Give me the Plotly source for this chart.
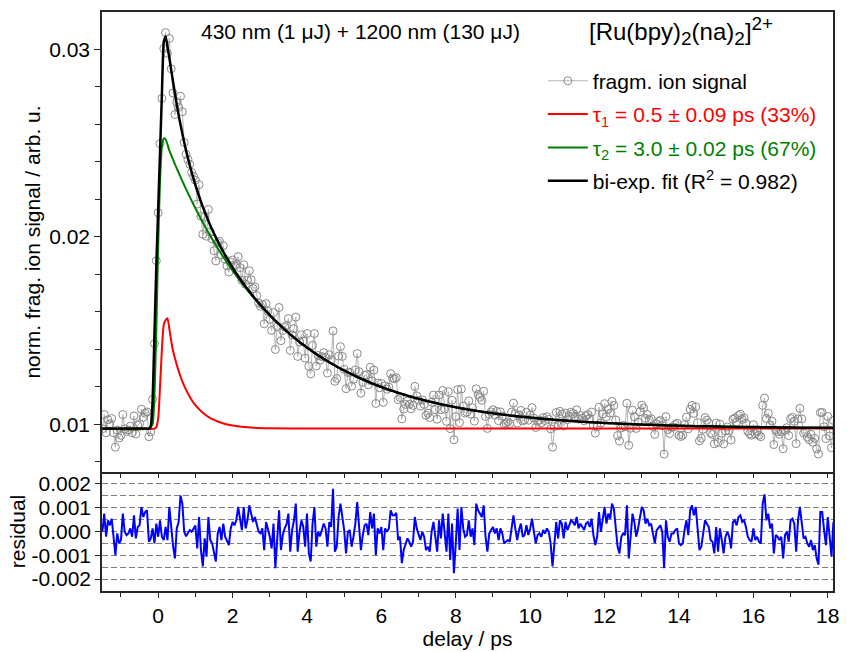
import numpy as np
import plotly.graph_objects as go

# ---------------- data ----------------
DELAY_START = -1.5   # ps, first delay point
DELAY_STEP = 0.05    # ps, delay-stage step
SCALE = 1e-5         # values below are in units of 1e-5

# bi-exponential fit (black), read at each delay point
fit_e5 = [
    977, 977, 977, 977, 977, 977, 977, 977, 977, 977,
    977, 977, 977, 977, 977, 977, 977, 977, 977, 977,
    977, 977, 977, 977, 977, 977,
    990, 1120, 1480, 1840, 2150, 2450, 2760, 3040, 3070, 3015, 2955, 2890, 2827, 2765,
    2705, 2650, 2599, 2550, 2504, 2460, 2420, 2381, 2345, 2310,
    2277, 2246, 2217, 2188, 2160, 2134, 2109, 2085, 2061, 2039,
    2018, 1997, 1977, 1957, 1939, 1920, 1902, 1885, 1869, 1852,
    1836, 1820, 1805, 1791, 1776, 1762, 1748, 1734, 1722, 1709,
    1696, 1684, 1671, 1660, 1648, 1637, 1625, 1614, 1604, 1594,
    1582, 1572, 1563, 1553, 1543, 1534, 1524, 1515, 1506, 1497,
    1489, 1479, 1471, 1463, 1455, 1447, 1439, 1431, 1424, 1417,
    1409, 1402, 1395, 1388, 1381, 1375, 1368, 1362, 1355, 1349,
    1343, 1337, 1331, 1325, 1319, 1314, 1308, 1303, 1297, 1292,
    1287, 1282, 1277, 1272, 1267, 1262, 1257, 1253, 1248, 1244,
    1239, 1235, 1231, 1226, 1222, 1218, 1214, 1210, 1207, 1203,
    1199, 1195, 1192, 1188, 1185, 1181, 1178, 1175, 1171, 1168,
    1165, 1162, 1159, 1156, 1153, 1150, 1147, 1144, 1141, 1139,
    1136, 1133, 1131, 1128, 1126, 1123, 1121, 1119, 1116, 1114,
    1112, 1109, 1107, 1105, 1103, 1101, 1099, 1097, 1095, 1093,
    1091, 1089, 1087, 1085, 1084, 1082, 1080, 1078, 1077, 1075,
    1074, 1072, 1070, 1069, 1067, 1066, 1064, 1063, 1061, 1060,
    1059, 1057, 1056, 1055, 1053, 1052, 1051, 1050, 1049, 1047,
    1046, 1045, 1044, 1043, 1042, 1041, 1040, 1039, 1038, 1037,
    1036, 1035, 1034, 1033, 1032, 1031, 1030, 1029, 1028, 1027,
    1027, 1026, 1025, 1024, 1023, 1023, 1022, 1021, 1020, 1020,
    1019, 1018, 1018, 1017, 1016, 1016, 1015, 1014, 1014, 1013,
    1012, 1012, 1011, 1011, 1010, 1010, 1009, 1009, 1008, 1008,
    1007, 1007, 1006,
    1006, 1005, 1005, 1004, 1004, 1003, 1003, 1002, 1002, 1002, 1001,
    1001, 1000, 1000, 1000, 999, 999, 999, 998, 998, 998,
    997, 997, 997, 996, 996, 996, 995, 995, 995, 994,
    994, 994, 993, 993, 993, 993, 992, 992, 992, 992,
    991, 991, 991, 991, 990, 990, 990, 990, 990, 989,
    989, 989, 989, 989, 989, 988, 988, 988, 988, 988,
    987, 987, 987, 987, 987, 987, 986, 986, 986, 986,
    986, 986, 986, 985, 985, 985, 985, 985, 985, 985,
    984, 984, 984, 984, 984, 984, 984, 984, 984, 983,
    983, 983, 983, 983, 983, 983, 983, 983, 983, 982,
    982, 982, 982, 982, 982, 982, 982, 982, 982, 982,
    982, 981, 981, 981, 981, 981, 981, 981, 981, 981,
]

# fit residual (blue), read at each delay point
residual_e5 = [
    -1, 75, -22, 47, 26, 54, -22, -99, -8, -50,
    -36, 75, -1, -15, -8, 13, -22, 68, -29, 19,
    26, 103, 61, 82, 89, -43, -30, 13, -50, 33,
    -22, 47, -22, -36, 19, -36, 103, 6, -60, -113,
    13, 40, 151, 117, -1, -20, -8, 6, -1, 13,
    25, -71, 61, -78, -147, -29, -106, 61, -36, -50,
    -92, -126, -8, 19, -36, 33, -22, -40, -57, 13,
    40, 26, 47, 103, 60, 6, 103, 13, 47, 110,
    75, 40, 61, 26, -1, -8, 13, -78, 40, 10,
    -22, -71, 33, -154, -22, 89, -78, -15, 13, 30,
    75, -85, 6, 47, 117, -85, -1, 47, 20, -64,
    75, -92, -126, 33, 103, -64, -1, -20, 6, 33,
    13, -64, 40, 19, 179, -85, -64, 61, 117, 70,
    6, -92, -1,
    6, -64, -22, 33, 124, 33, -78, -15, 26, 33,
    -15, 82, 13, 75, -99, 13, -8, 19, -78, 13,
    -1, 13, 89, 68, 68, 78, -36, -22, -133, -78,
    -50, -29, -43, -64, -43, 61, 13, -8, -36, -1,
    -22, -78, -64, -85, -1, 40, -36, -85, 47, -29,
    75, -22, -85, 75, -120, 33, -175, -50, 96, -78,
    103, 13, -22, -15, 47, -22, 13, -57, 117, 89,
    75, 61, 110, -22, -85, -8, 6, 19, -8, 13,
    -36, 13, -8, -50, -43, -36, -43, 19, 68, 13,
    -36, 6, 33, -22, -15, 26, -15, 13, 54, -1,
    -50, -15, -8, -22, 6, -8, 13, -1, -50, -147,
    -36, 40, -29, 47, 33, -29, 40, 6, 26, 47,
    40, 26, 61, 13, 33, 19, 6, 33, 40, 19,
    54, -15, -57, -22,
    82, -1, 47, 103, 33, 75, 54, 117, 96, 19,
    -64, -92, -22, -8, -15, 110, -113, -22, 75, 40,
    -22, 13, 68, 103, 89, 33, 54, 26, 33, -8,
    -50, 6, 19, 26, -1, -154, 47, -22, -43, -8,
    -8, 6, 13, -50, -57, -50, 6, 47, -15, 89,
    110, 68, 103, 19, -78, -64, -15, 47, 33, 19,
    -36, -43, -92, 19, -85, 13, -36, -92, -22, -1,
    -22, -71, 40, 47, 26, 61, 68, 40, 47, 19,
    -22, -36, -43, 13, -36, -22, -43, -50, 117, 156,
    47, 75, 13, 33, -92, -15, -22, -36, -22, -113,
    -15, -1, -43, 47, 54, 33, -85, 47, 103, 47,
    -29, -22, -50, -64, -36, -78, -57, -113, -140, 82,
    82, 6, -57, 61, -43, -106, 40,
]

# tau1 component (red) and tau2 component (green), read at knots
tau1_delay = [-1.55, -0.1, -0.05, 0.0, 0.05, 0.1, 0.15, 0.2, 0.25, 0.3, 0.35, 0.4,
              0.5, 0.6, 0.7, 0.8, 0.9, 1.0, 1.2, 1.4, 1.6, 1.8, 2.0, 2.5, 3.0, 4.0, 18.2]
tau1_e5 = [977, 977, 985, 1030, 1200, 1400, 1530, 1555, 1565, 1510, 1445, 1392,
           1317, 1255, 1205, 1164, 1130, 1102, 1061, 1033, 1015, 1002, 994, 983, 979, 977, 977]

tau2_delay = [-1.55, -0.25, -0.2, -0.15, -0.1, -0.05, 0.0, 0.05, 0.1, 0.15, 0.2, 0.3, 0.4,
              0.5, 0.75, 1.0, 1.25, 1.5, 1.75, 2.0, 2.5, 3.0, 3.5, 4.0, 4.5, 5.0, 6.0,
              7.0, 8.0, 9.0, 10.0, 11.0, 12.0, 13.0, 14.0, 15.0, 16.0, 17.0, 18.2]
tau2_e5 = [977, 977, 985, 1000, 1150, 1500, 1950, 2300, 2480, 2525, 2520, 2461, 2412,
           2365, 2254, 2152, 2058, 1972, 1892, 1819, 1690, 1580, 1488, 1409, 1343, 1287, 1199,
           1136, 1091, 1059, 1036, 1019, 1007, 999, 992, 988, 985, 983, 981]

x_tickvals = [0, 2, 4, 6, 8, 10, 12, 14, 16, 18]
main_tickvals = [0.01, 0.02, 0.03]
main_ticktext = ["0.01", "0.02", "0.03"]
resid_tickvals = [-0.002, -0.001, 0.0, 0.001, 0.002]
resid_ticktext = ["-0.002", "-0.001", "0.000", "0.001", "0.002"]
resid_minor_grid = [-0.0015, -0.0005, 0.0005, 0.0015]

# ---------------- derived series ----------------
assert len(fit_e5) == len(residual_e5), (len(fit_e5), len(residual_e5))
delay = DELAY_START + DELAY_STEP * np.arange(len(fit_e5))
fit = np.array(fit_e5) * SCALE
residual = np.array(residual_e5) * SCALE
signal = fit + residual          # data = fit + residual

FONT = "Liberation Sans, Arial, sans-serif"
FS = 21
AX = "#262626"

fig = go.Figure()
fig.add_trace(go.Scatter(
    x=delay, y=signal, mode="lines+markers", name="fragm. ion signal",
    line=dict(color="#b4b4b4", width=1),
    marker=dict(symbol="circle-open", size=8, color="#8a8a8a", line=dict(width=1)),
    legendgroup="a", xaxis="x", yaxis="y"))
fig.add_trace(go.Scatter(
    x=tau1_delay, y=np.array(tau1_e5) * SCALE, mode="lines",
    name="<span style='color:#ff0000'>τ<sub>1</sub> = 0.5 ± 0.09 ps (33%)</span>",
    line=dict(color="#ff0000", width=2, shape="spline", smoothing=0.6),
    legendgroup="b", xaxis="x", yaxis="y"))
fig.add_trace(go.Scatter(
    x=tau2_delay, y=np.array(tau2_e5) * SCALE, mode="lines",
    name="<span style='color:#008000'>τ<sub>2</sub> = 3.0 ± 0.02 ps (67%)</span>",
    line=dict(color="#008000", width=2, shape="spline", smoothing=0.6),
    legendgroup="c", xaxis="x", yaxis="y"))
fig.add_trace(go.Scatter(
    x=delay, y=fit, mode="lines",
    name="bi-exp. fit (R<sup>2</sup> = 0.982)",
    line=dict(color="#000000", width=2.5, shape="spline", smoothing=0.4),
    legendgroup="d", xaxis="x", yaxis="y"))
fig.add_trace(go.Scatter(
    x=delay, y=residual, mode="lines", showlegend=False,
    line=dict(color="#0000ff", width=2), xaxis="x2", yaxis="y2"))

XR = [-1.51, 18.14]
D = 119 / 579

fig.update_layout(
    width=847, height=652,
    margin=dict(l=102, r=8, t=12, b=61),
    paper_bgcolor="white", plot_bgcolor="white",
    font=dict(family=FONT, size=FS, color="black"),
    showlegend=True,
    legend=dict(x=0.603, y=0.916, xanchor="left", yanchor="top",
                bgcolor="rgba(0,0,0,0)", font=dict(size=FS),
                tracegroupgap=3, itemwidth=40),
    xaxis=dict(domain=[0, 1], anchor="y", range=XR, showticklabels=False,
               showline=True, mirror=True, linecolor=AX, linewidth=1.5,
               ticks="outside", ticklen=4, tickcolor=AX, tickwidth=1, dtick=1, tick0=0,
               showgrid=False, zeroline=False),
    yaxis=dict(domain=[D, 1], anchor="x", range=[0.007456, 0.03199],
               tickmode="array", tickvals=main_tickvals, ticktext=main_ticktext,
               showline=True, mirror=True, linecolor=AX, linewidth=1.5,
               ticks="outside", ticklen=6, tickcolor=AX,
               minor=dict(dtick=0.002, tick0=0, ticks="outside", ticklen=5, tickcolor=AX),
               showgrid=False, zeroline=False,
               title=dict(text="norm. frag. ion signal / arb. u.", standoff=3,
                          font=dict(size=FS))),
    xaxis2=dict(domain=[0, 1], anchor="y2", range=XR,
                tickmode="array", tickvals=x_tickvals,
                showline=True, mirror=False, linecolor=AX, linewidth=1.5,
                ticks="outside", ticklen=5, tickcolor=AX,
                minor=dict(dtick=1, tick0=0, ticks="outside", ticklen=4, tickcolor=AX),
                showgrid=False, zeroline=False,
                title=dict(text="delay / ps", standoff=0, font=dict(size=FS))),
    yaxis2=dict(domain=[0, D], anchor="x2", range=[-0.0025, 0.0025],
                tickmode="array", tickvals=resid_tickvals, ticktext=resid_ticktext,
                showline=True, mirror=True, linecolor=AX, linewidth=1.5,
                ticks="outside", ticklen=5, tickcolor=AX,
                showgrid=True, gridcolor="#808080", gridwidth=1.2, griddash="6px,3px",
                minor=dict(tickmode="array", tickvals=resid_minor_grid, showgrid=True,
                           gridcolor="#808080", gridwidth=1.2, griddash="6px,3px", ticks=""),
                zeroline=False,
                title=dict(text="residual", standoff=0, font=dict(size=FS))),
    annotations=[
        dict(text="430 nm (1 μJ) + 1200 nm (130 μJ)", xref="paper", yref="paper",
             x=0.3535, y=0.967, xanchor="center", yanchor="middle", showarrow=False,
             font=dict(size=FS)),
        dict(text="[Ru(bpy)<sub><span style='font-size:19px'>2</span></sub>(na)"
                  "<sub><span style='font-size:19px'>2</span></sub>]"
                  "<sup><span style='font-size:19px'>2+</span></sup>",
             xref="paper", yref="paper", x=0.6635, y=0.968, xanchor="left",
             yanchor="middle", showarrow=False, font=dict(size=24)),
    ],
)

fig.write_html("out.html")
